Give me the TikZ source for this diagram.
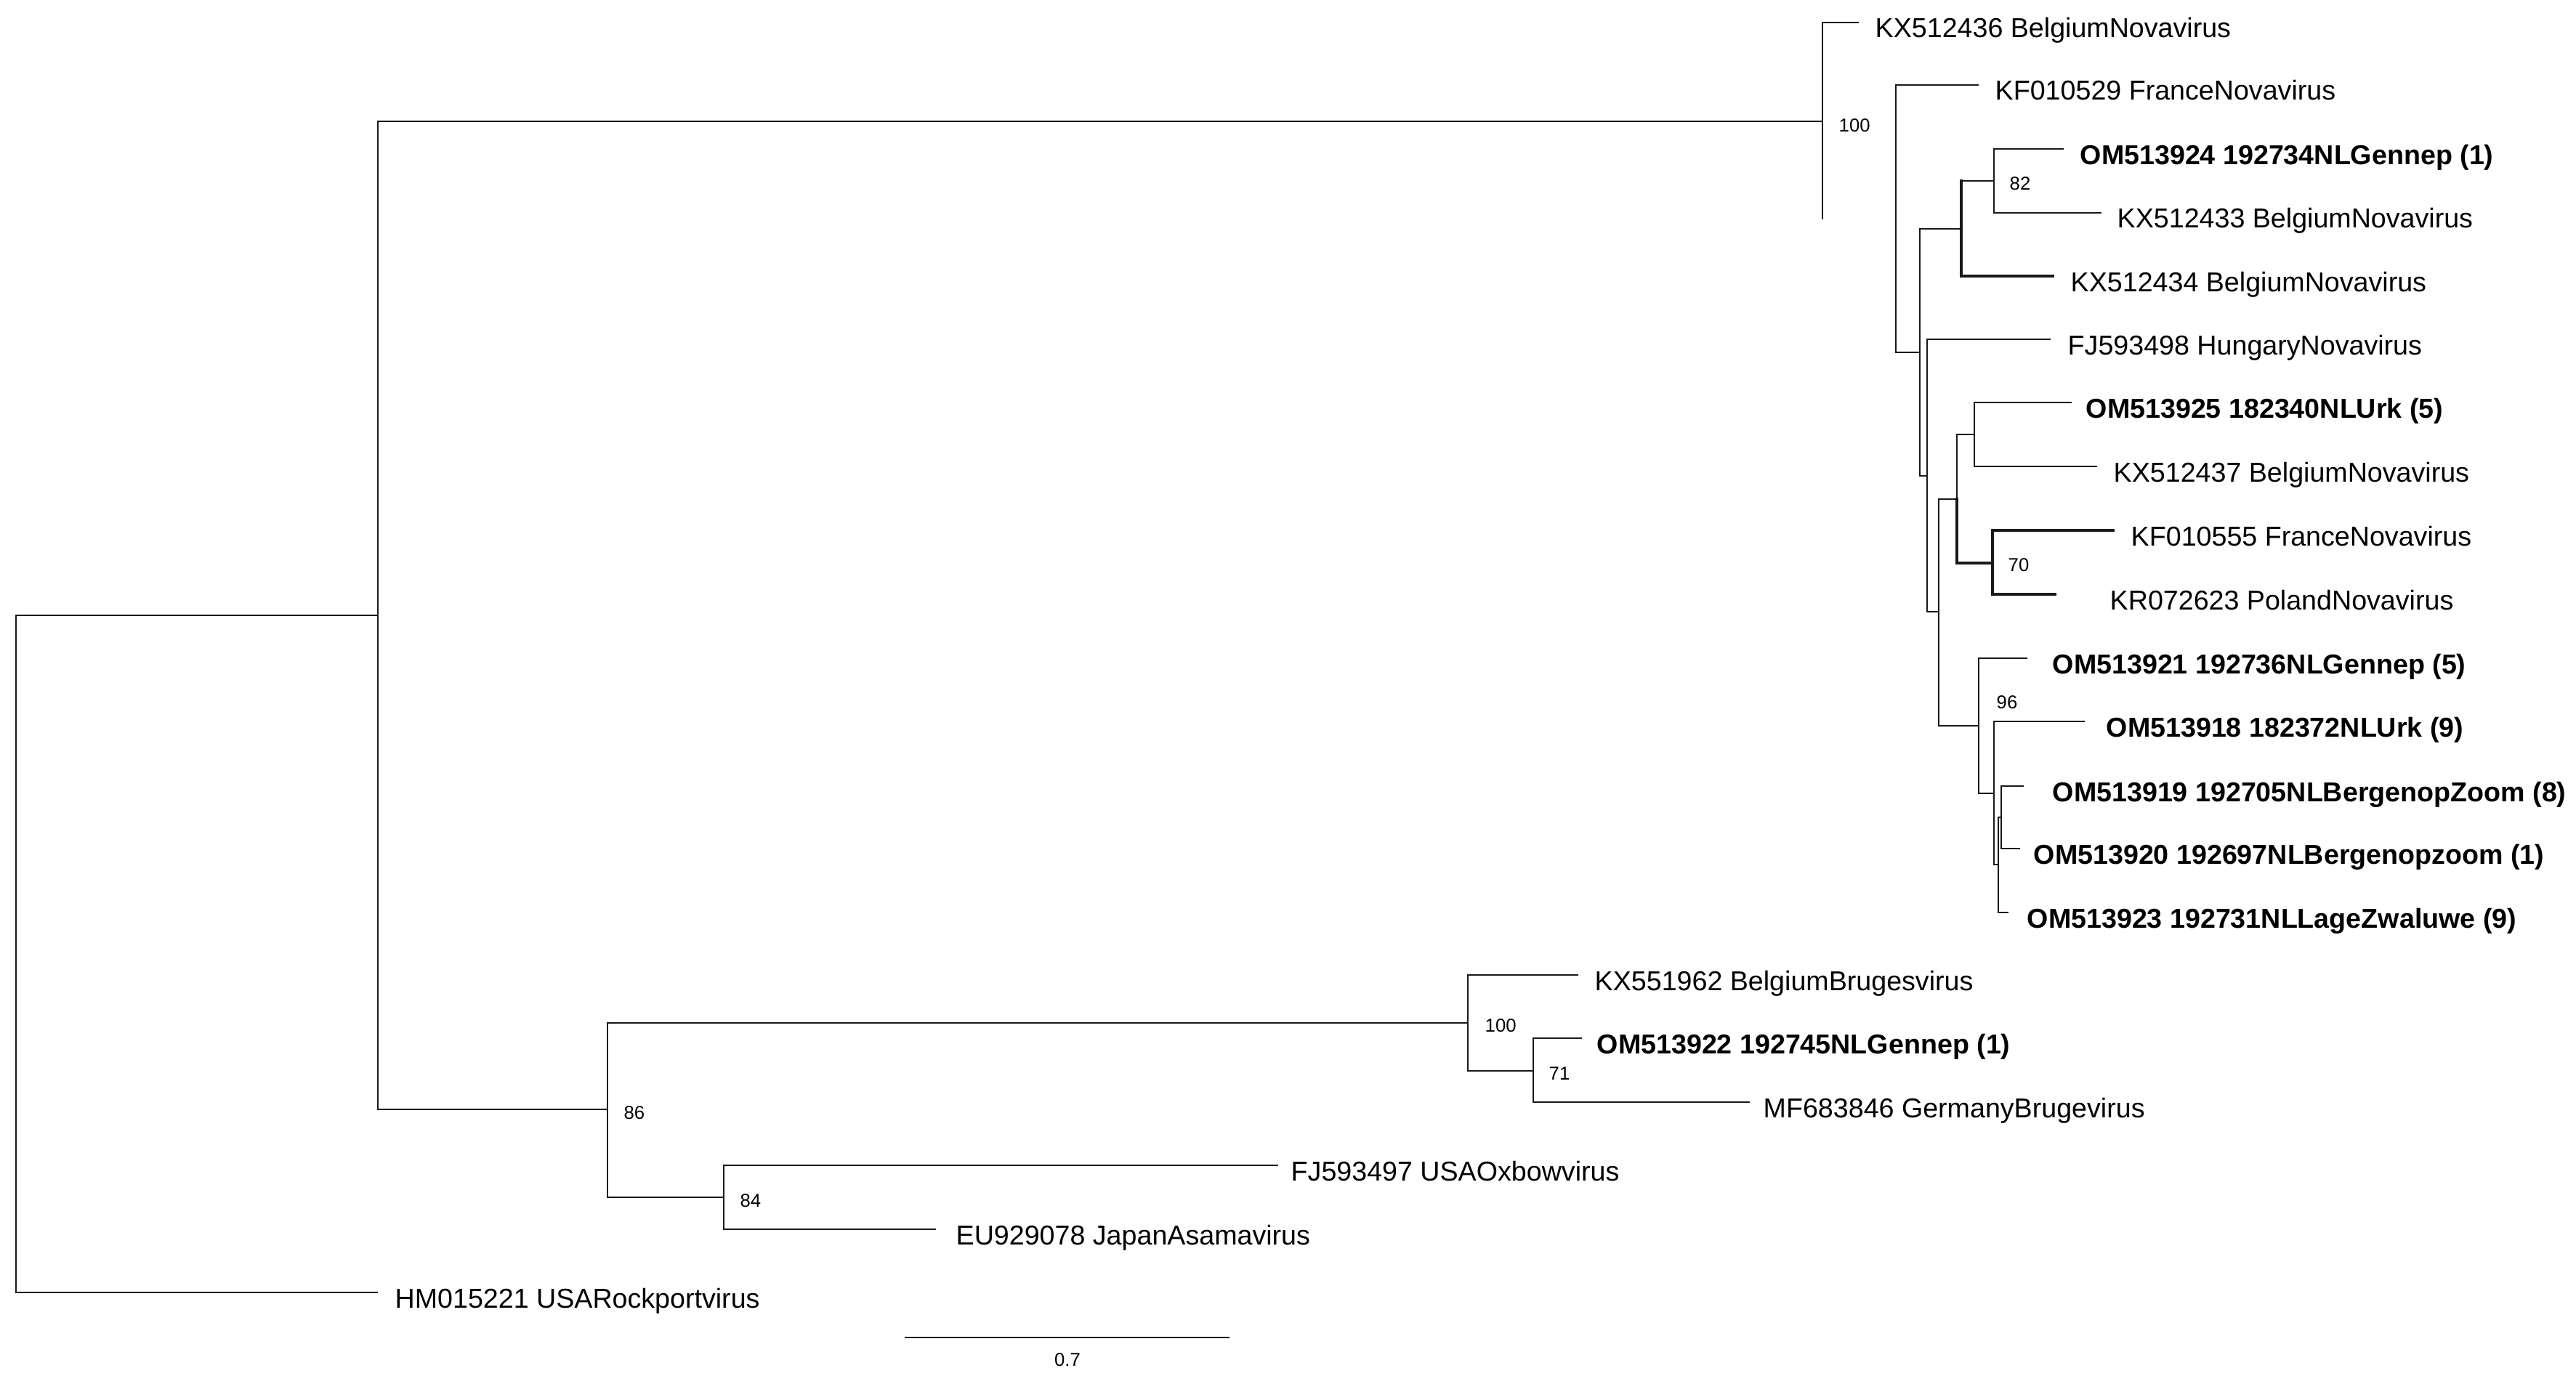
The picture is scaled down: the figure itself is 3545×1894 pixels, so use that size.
\documentclass[tikz,border=0pt]{standalone}
\usepackage{fontspec}
\setmainfont{Liberation Sans}
\begin{document}
\begin{tikzpicture}[x=0.01cm, y=-0.01cm,
  br/.style={draw=black!90, line width=0.72pt, line cap=rect},
  thk/.style={br, line width=1.25pt},
  lab/.style={anchor=base west, inner sep=0pt, font=\fontsize{10.7pt}{12pt}\selectfont},
  blab/.style={anchor=base west, inner sep=0pt, font=\fontsize{10.7pt}{12pt}\selectfont\bfseries},
  boot/.style={anchor=west, inner sep=0pt, font=\fontsize{7.3pt}{8pt}\selectfont}]
\useasboundingbox (0,0) rectangle (3545,1894);
% internal nodes
\coordinate (root) at (22,1313);
\coordinate (A) at (520,847);
\coordinate (N100) at (2508,167);
\coordinate (B) at (2609,301);
\coordinate (C) at (2642,485);
\coordinate (D) at (2699,315);
\coordinate (E) at (2744,249);
\coordinate (F) at (2652,655);
\coordinate (G) at (2668,842);
\coordinate (H) at (2693,687);
\coordinate (I) at (2717,598);
\coordinate (J) at (2742,775);
\coordinate (K) at (2723,999);
\coordinate (L) at (2744,1092);
\coordinate (M) at (2750,1190);
\coordinate (M2) at (2754,1125);
\coordinate (P) at (836,1527);
\coordinate (Q) at (2020,1408);
\coordinate (R) at (2110,1474);
\coordinate (S) at (996,1648);
% leaf tips
\coordinate (t1) at (2557,31);
\coordinate (t2) at (2722,117);
\coordinate (t3) at (2839,205);
\coordinate (t4) at (2891,293);
\coordinate (t5) at (2825,380);
\coordinate (t6) at (2821,467);
\coordinate (t7) at (2850,554);
\coordinate (t8) at (2885,642);
\coordinate (t9) at (2908,730);
\coordinate (t10) at (2828,818);
\coordinate (t11) at (2789,906);
\coordinate (t12) at (2868,993);
\coordinate (t13) at (2784,1082);
\coordinate (t14) at (2779,1168);
\coordinate (t15) at (2763,1256);
\coordinate (t16) at (2171,1342);
\coordinate (t17) at (2176,1429);
\coordinate (t18) at (2407,1517);
\coordinate (t19) at (1758,1604);
\coordinate (t20) at (1287,1692);
\coordinate (t21) at (519,1779);
% branches
\draw[br] (root) |- (A);
\draw[br] (root) |- (t21);
\draw[br] (A) |- (N100);
\draw[br] (A) |- (P);
\draw[br] (N100) |- (t1);
\draw[br] (N100) -- (N100 |- B);
\draw[br] (B) |- (t2);
\draw[br] (B) |- (C);
\draw[br] (C) |- (D);
\draw[br] (C) |- (F);
\draw[br] (D) |- (E);
\draw[thk] (D) |- (t5);
\draw[thk] (D) -- (D |- E);
\draw[br] (E) |- (t3);
\draw[br] (E) |- (t4);
\draw[br] (F) |- (t6);
\draw[br] (F) |- (G);
\draw[br] (G) |- (H);
\draw[br] (G) |- (K);
\draw[br] (H) |- (I);
\draw[thk] (H) |- (J);
\draw[br] (I) |- (t7);
\draw[br] (I) |- (t8);
\draw[thk] (J) |- (t9);
\draw[thk] (J) |- (t10);
\draw[br] (K) |- (t11);
\draw[br] (K) |- (L);
\draw[br] (L) |- (t12);
\draw[br] (L) |- (M);
\draw[br] (M) |- (M2);
\draw[br] (M) |- (t15);
\draw[br] (M2) |- (t13);
\draw[br] (M2) |- (t14);
\draw[br] (P) |- (Q);
\draw[br] (P) |- (S);
\draw[br] (Q) |- (t16);
\draw[br] (Q) |- (R);
\draw[br] (R) |- (t17);
\draw[br] (R) |- (t18);
\draw[br] (S) |- (t19);
\draw[br] (S) |- (t20);
% leaf labels
\node[lab]  (l1)  at (2580,52)   {KX512436 BelgiumNovavirus};
\node[lab]  (l2)  at (2745,138)  {KF010529 FranceNovavirus};
\node[blab] (l3)  at (2862,226)  {OM513924 192734NLGennep (1)};
\node[lab]  (l4)  at (2913,314)  {KX512433 BelgiumNovavirus};
\node[lab]  (l5)  at (2849,401)  {KX512434 BelgiumNovavirus};
\node[lab]  (l6)  at (2845,488)  {FJ593498 HungaryNovavirus};
\node[blab] (l7)  at (2870,575)  {OM513925 182340NLUrk (5)};
\node[lab]  (l8)  at (2908,663)  {KX512437 BelgiumNovavirus};
\node[lab]  (l9)  at (2932,751)  {KF010555 FranceNovavirus};
\node[lab]  (l10) at (2903,839)  {KR072623 PolandNovavirus};
\node[blab] (l11) at (2824,927)  {OM513921 192736NLGennep (5)};
\node[blab] (l12) at (2898,1014) {OM513918 182372NLUrk (9)};
\node[blab] (l13) at (2824,1103) {OM513919 192705NLBergenopZoom (8)};
\node[blab] (l14) at (2798,1189) {OM513920 192697NLBergenopzoom (1)};
\node[blab] (l15) at (2789,1277) {OM513923 192731NLLageZwaluwe (9)};
\node[lab]  (l16) at (2194,1363) {KX551962 BelgiumBrugesvirus};
\node[blab] (l17) at (2197,1450) {OM513922 192745NLGennep (1)};
\node[lab]  (l18) at (2426,1538) {MF683846 GermanyBrugevirus};
\node[lab]  (l19) at (1776,1625) {FJ593497 USAOxbowvirus};
\node[lab]  (l20) at (1315,1713) {EU929078 JapanAsamavirus};
\node[lab]  (l21) at (543,1800)  {HM015221 USARockportvirus};
% bootstrap values
\node[boot] (b1) at (2530,173)  {100};
\node[boot] (b2) at (2765,253)  {82};
\node[boot] (b3) at (2763,778)  {70};
\node[boot] (b4) at (2747,967)  {96};
\node[boot] (b5) at (2043,1412) {100};
\node[boot] (b6) at (2131,1478) {71};
\node[boot] (b7) at (858,1532)  {86};
\node[boot] (b8) at (1018,1653) {84};
% scale bar
\coordinate (sb1) at (1246,1841);
\coordinate (sb2) at (1691,1841);
\draw[br] (sb1) -- (sb2);
\node[boot, anchor=center] (sbl) at (1469,1872) {0.7};
\end{tikzpicture}
\end{document}
